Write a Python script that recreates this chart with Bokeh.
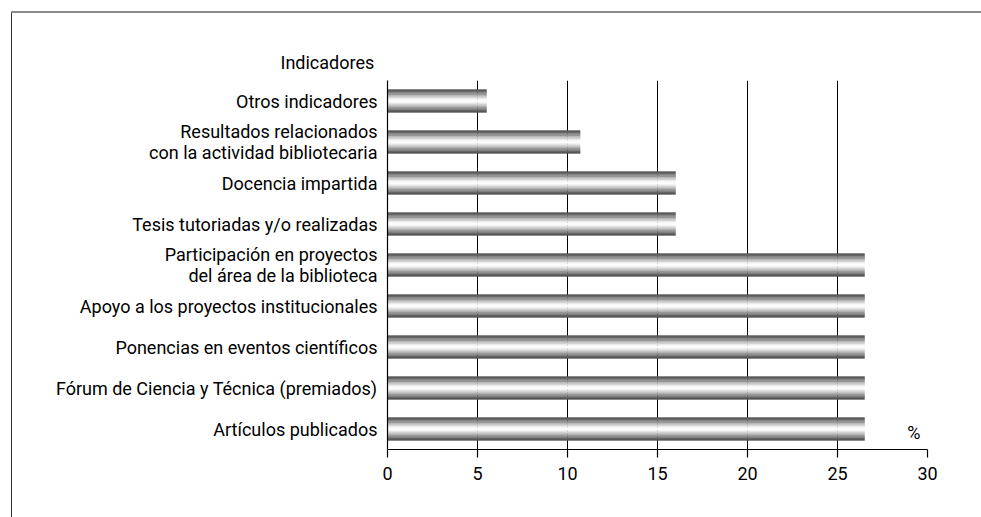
from bokeh.plotting import figure
from bokeh.models import ColumnDataSource, FixedTicker, Label, Title
from bokeh.transform import dodge
from bokeh.embed import file_html
from bokeh.resources import INLINE

categories = [
    "Otros indicadores",
    "Resultados relacionados\ncon la actividad bibliotecaria",
    "Docencia impartida",
    "Tesis tutoriadas y/o realizadas",
    "Participación en proyectos\ndel área de la biblioteca",
    "Apoyo a los proyectos institucionales",
    "Ponencias en eventos científicos",
    "Fórum de Ciencia y Técnica (premiados)",
    "Artículos publicados",
]
values = [5.5, 10.7, 16.0, 16.0, 26.5, 26.5, 26.5, 26.5, 26.5]
x_ticks = [0, 5, 10, 15, 20, 25, 30]

n = len(categories)
ypos = [n - i for i in range(n)]
source = ColumnDataSource(dict(y=ypos, value=values))

FONT = "Roboto"
FS = "18px"

W, H = 981, 517
p = figure(width=W, height=H,
           x_range=(0, 30), y_range=(0.5, n + 0.5),
           output_backend="svg", toolbar_location=None,
           min_border_left=387, min_border_right=W - 927,
           min_border_top=80, min_border_bottom=H - 449)
p.styles = {"box-shadow": ("inset 0 11px 0 0 white, inset 11px 0 0 0 white, "
                           "inset 0 13px 0 0 #8a8a8a, inset 12px 0 0 0 #333333")}
p.border_fill_color = None
p.outline_line_color = None
p.background_fill_color = "white"

# gradient bars built from thin strips
levels = [88, 104, 124, 150, 180, 210, 236, 250, 252, 238, 214, 186, 158, 130, 106, 88]
bar_h = 0.56
strip = bar_h / len(levels)
for i, g in enumerate(levels):
    off = bar_h / 2 - (i + 0.5) * strip
    col = "#%02x%02x%02x" % (g, g, g)
    p.hbar(y=dodge("y", off), left=0, right="value", height=strip, source=source,
           fill_color=col, line_color=col, line_width=0.4)

p.xgrid.grid_line_color = "black"
p.xgrid.grid_line_width = 1
p.xgrid.ticker = FixedTicker(ticks=x_ticks)
p.ygrid.grid_line_color = None

xa = p.xaxis[0]
xa.ticker = FixedTicker(ticks=x_ticks)
xa.axis_line_color = "black"
xa.axis_line_width = 1.2
xa.major_tick_line_color = "black"
xa.major_tick_line_width = 1.2
xa.major_tick_in = 0
xa.major_tick_out = 8
xa.minor_tick_line_color = None
xa.major_label_text_font = FONT
xa.major_label_text_font_size = FS
xa.major_label_text_color = "black"
xa.major_label_standoff = 9

ya = p.yaxis[0]
ya.ticker = FixedTicker(ticks=ypos)
ya.major_label_overrides = {y: c for y, c in zip(ypos, categories)}
ya.axis_line_color = "black"
ya.axis_line_width = 1.2
ya.major_tick_line_color = None
ya.major_tick_in = 0
ya.major_tick_out = 0
ya.minor_tick_line_color = None
ya.major_label_text_font = FONT
ya.major_label_text_font_size = FS
ya.major_label_text_color = "black"
ya.major_label_text_line_height = 1.0
ya.major_label_standoff = 10

p.add_layout(Title(text="Indicadores", align="left", offset=-107, standoff=16,
                   text_font=FONT, text_font_size=FS, text_font_style="normal",
                   text_color="black"), "above")
p.add_layout(Label(x=30, y=0.5, x_offset=-7, y_offset=7, text="%",
                   text_align="right", text_baseline="bottom", text_font=FONT,
                   text_font_size=FS, text_color="black"))

open("out.html", "w").write(file_html(p, INLINE))
